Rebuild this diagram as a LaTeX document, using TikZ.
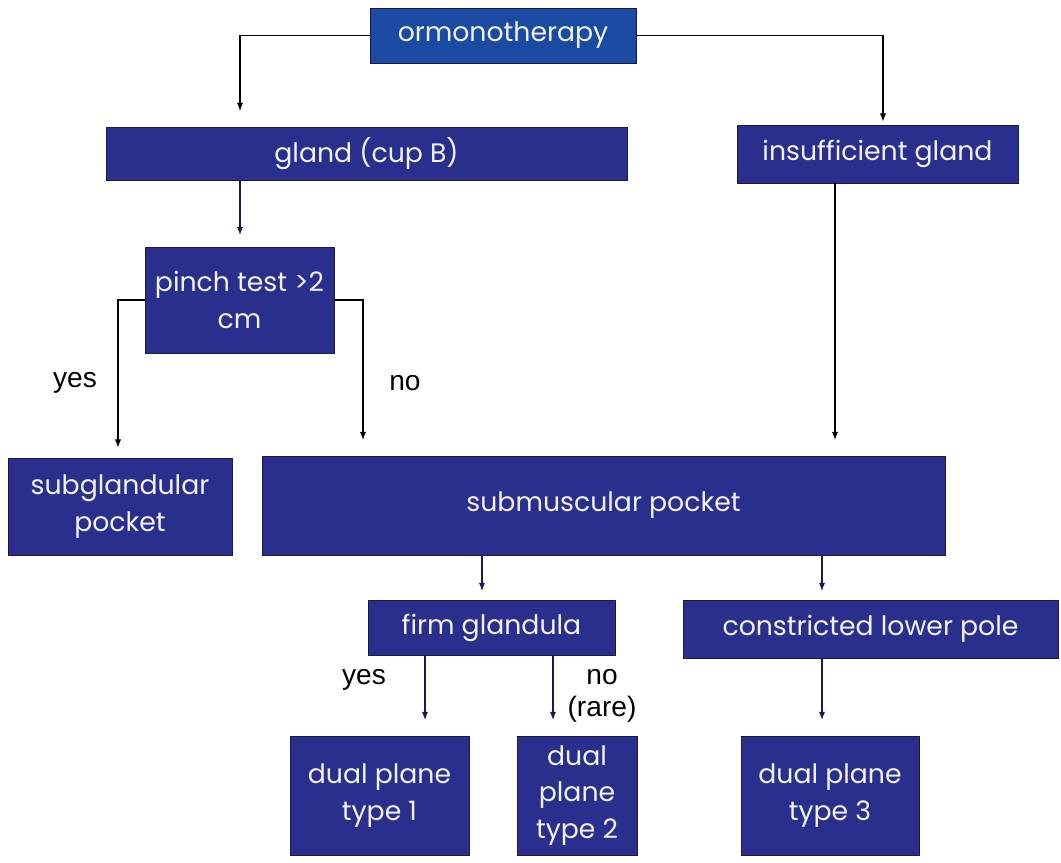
\documentclass[tikz,border=0pt]{standalone}
\usepackage{fontspec}
\setmainfont{Liberation Sans}
\newfontfamily\boxfont{Poppins}
\usetikzlibrary{arrows.meta}
\definecolor{navy}{HTML}{2A2F8E}
\definecolor{royal}{HTML}{1B4AA2}
\definecolor{edge}{HTML}{1A1A4A}
\begin{document}
\begin{tikzpicture}[x=0.025cm, y=-0.025cm,
  box/.style 2 args={rectangle, draw=edge, fill=navy, text=white!90!gray,
    font=\boxfont\fontsize{19}{26}\selectfont, align=center, inner sep=2pt,
    minimum width=#1*0.025cm, minimum height=#2*0.025cm},
  arr/.style={-{Latex[length=6pt,width=4.5pt]}, line width=1.1pt, draw=black},
  narr/.style={arr, draw=edge},
  lbl/.style={font=\fontsize{20}{23}\selectfont, align=center}]
\useasboundingbox (0,0) rectangle (1061,863);
\node [box={266}{55}, fill=royal] (ormo) at (503,35.5) {ormonotherapy};
\node [box={521}{53}] (gland) at (366.5,153.5) {gland (cup B)};
\node [box={281}{58}] (insuff) at (877.5,154) {insufficient gland};
\node [box={189}{106}] (pinch) at (239.5,300) {pinch test >2\\cm};
\node [box={224}{97}] (subgl) at (120,506.5) {subglandular\\pocket};
\node [box={683}{99}] (submusc) at (603.5,505.5) {submuscular pocket};
\node [box={247}{55}] (firm) at (491.5,627.5) {firm glandula};
\node [box={375}{58}] (constr) at (870.5,629) {constricted lower pole};
\node [box={179}{119}] (type1) at (379.5,795.5) {dual plane\\type 1};
\node [box={120}{119}] (type2) at (577,795.5) {dual\\plane\\type 2};
\node [box={178}{119}] (type3) at (830,795.5) {dual plane\\type 3};
% connectors
\draw [arr, shorten >=11pt] (ormo.west) -| (gland.north -| 240,0);
\draw [arr, shorten >=2pt] (ormo.east) -| (insuff.north -| 883,0);
\draw [narr, shorten >=8pt] (gland.south -| 240,0) -- (pinch.north -| 240,0);
\draw [arr, shorten >=7pt] (pinch.west) -| (subgl.north -| 118,0);
\draw [arr, shorten >=11pt] (pinch.east) -| (submusc.north -| 363,0);
\draw [arr, shorten >=11pt] (insuff.south -| 835,0) -- (submusc.north -| 835,0);
\draw [narr, shorten >=6pt] (submusc.south -| 482,0) -- (firm.north -| 482,0);
\draw [narr, shorten >=6pt] (submusc.south -| 822,0) -- (constr.north -| 822,0);
\draw [narr, shorten >=11pt] (firm.south -| 425,0) -- (type1.north -| 425,0);
\draw [narr, shorten >=11pt] (firm.south -| 553,0) -- (type2.north -| 553,0);
\draw [narr, shorten >=11pt] (constr.south -| 822,0) -- (type3.north -| 822,0);
% labels
\node [lbl] (yes1) at (75,383) {yes};
\node [lbl] (no1) at (405,383) {no};
\node [lbl] (yes2) at (364,680) {yes};
\node [lbl] (no2) at (602,696) {no\\(rare)};
\end{tikzpicture}
\end{document}
